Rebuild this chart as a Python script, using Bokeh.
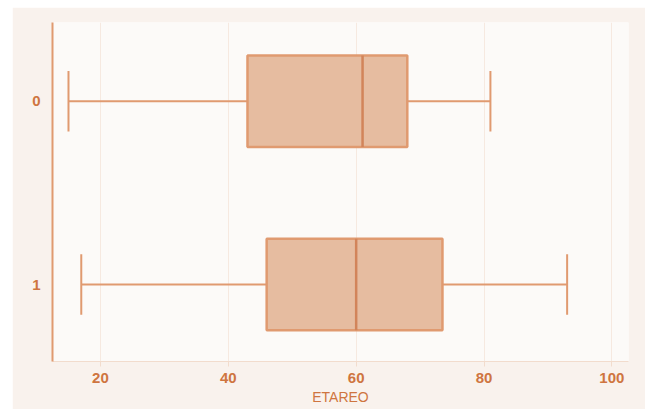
from bokeh.plotting import figure
from bokeh.models import Range1d, FixedTicker, ColumnDataSource
from bokeh.embed import file_html
from bokeh.resources import INLINE

# data
groups = ["0", "1"]
lower = [15, 17]
q1 = [43, 46]
median = [61, 60]
q3 = [68, 73.5]
upper = [81, 93]
x_ticks = [20, 40, 60, 80, 100]
x_label = "ETAREO"

ypos = [int(g) for g in groups]
box_h = 0.5
cap_h = 0.33

src = ColumnDataSource(dict(
    y=ypos, lower=lower, q1=q1, median=median, q3=q3, upper=upper,
    yb0=[v - box_h / 2 for v in ypos], yb1=[v + box_h / 2 for v in ypos],
    yc0=[v - cap_h / 2 for v in ypos], yc1=[v + cap_h / 2 for v in ypos],
))

p = figure(width=633, height=402, output_backend="svg", toolbar_location=None,
           x_range=Range1d(12.5, 102.6), y_range=Range1d(1.42, -0.43),
           min_border_left=40, min_border_right=17, min_border_top=15,
           min_border_bottom=48, margin=(7, 0, 0, 12))

p.background_fill_color = "#fcfaf8"
p.border_fill_color = "#f9f2ed"
p.outline_line_color = None

line_c = "#e09a70"
fill_c = "#e6bca0"
med_c = "#d2845a"
text_c = "#cf7540"

# whiskers
p.segment(x0="lower", y0="y", x1="q1", y1="y", source=src, line_color=line_c, line_width=2)
p.segment(x0="q3", y0="y", x1="upper", y1="y", source=src, line_color=line_c, line_width=2)
p.segment(x0="lower", y0="yc0", x1="lower", y1="yc1", source=src, line_color=line_c, line_width=2)
p.segment(x0="upper", y0="yc0", x1="upper", y1="yc1", source=src, line_color=line_c, line_width=2)
# boxes
p.hbar(y="y", left="q1", right="q3", height=box_h, source=src,
       fill_color=fill_c, line_color=line_c, line_width=2.5)
p.segment(x0="median", y0="yb0", x1="median", y1="yb1", source=src, line_color=med_c, line_width=2.5)

# axes
p.xaxis.ticker = FixedTicker(ticks=x_ticks)
p.yaxis.ticker = FixedTicker(ticks=ypos)
p.xaxis.axis_label = x_label
p.xaxis.axis_label_text_font = "Liberation Sans"
p.xaxis.axis_label_text_font_style = "normal"
p.xaxis.axis_label_text_font_size = "14px"
p.xaxis.axis_label_text_color = text_c
p.xaxis.axis_label_standoff = 3
for ax in (p.xaxis, p.yaxis):
    ax.major_label_text_font = "Liberation Sans"
    ax.major_label_text_font_size = "15px"
    ax.major_label_text_font_style = "bold"
    ax.major_label_text_color = text_c
    ax.minor_tick_line_color = None
p.xaxis.axis_line_color = "#f2dccd"
p.xaxis.major_tick_line_color = "#f2dccd"
p.xaxis.major_tick_in = 0
p.xaxis.major_tick_out = 5
p.xaxis.major_label_standoff = 6
p.yaxis.axis_line_color = line_c
p.yaxis.axis_line_width = 2
p.yaxis.major_tick_line_color = None
p.yaxis.major_label_standoff = 6

p.xgrid.grid_line_color = "#f6e9e0"
p.ygrid.grid_line_color = None

open("out.html", "w").write(file_html(p, INLINE))
